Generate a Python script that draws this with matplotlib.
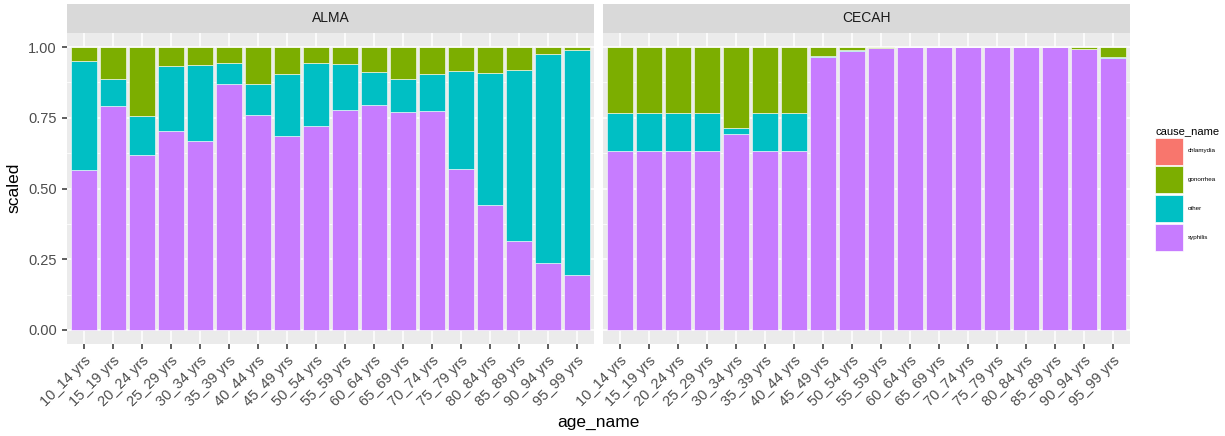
import numpy as np
import matplotlib
matplotlib.use("Agg")
import matplotlib.pyplot as plt
from matplotlib.patches import Patch

plt.rcParams["font.family"] = ["Liberation Sans", "DejaVu Sans"]

ages = ["10_14 yrs", "15_19 yrs", "20_24 yrs", "25_29 yrs", "30_34 yrs", "35_39 yrs",
        "40_44 yrs", "45_49 yrs", "50_54 yrs", "55_59 yrs", "60_64 yrs", "65_69 yrs",
        "70_74 yrs", "75_79 yrs", "80_84 yrs", "85_89 yrs", "90_94 yrs", "95_99 yrs"]
causes = ["chlamydia", "gonorrhea", "other", "syphilis"]
colors = {"chlamydia": "#F8766D", "gonorrhea": "#7CAE00", "other": "#00BFC4", "syphilis": "#C77CFF"}

# shares per age group (stacked to 1)
alma_syphilis = [0.567, 0.793, 0.617, 0.704, 0.669, 0.871, 0.761, 0.687, 0.722,
                 0.779, 0.796, 0.771, 0.774, 0.570, 0.440, 0.314, 0.237, 0.193]
alma_other = [0.384, 0.096, 0.140, 0.228, 0.267, 0.074, 0.110, 0.217, 0.223,
              0.162, 0.116, 0.118, 0.130, 0.347, 0.470, 0.605, 0.737, 0.796]
alma_gonorrhea = [0.049, 0.111, 0.243, 0.068, 0.064, 0.055, 0.129, 0.096, 0.055,
                  0.059, 0.088, 0.111, 0.096, 0.083, 0.090, 0.081, 0.026, 0.011]
alma_chlamydia = [0.0] * 18

cecah_syphilis = [0.634, 0.634, 0.634, 0.634, 0.694, 0.634, 0.634, 0.964, 0.987,
                  0.997, 0.999, 0.999, 0.999, 0.999, 0.999, 0.999, 0.993, 0.960]
cecah_other = [0.133, 0.133, 0.133, 0.133, 0.019, 0.133, 0.133, 0.004, 0.002,
               0.001, 0.0, 0.0, 0.0, 0.0, 0.0, 0.0, 0.002, 0.005]
cecah_gonorrhea = [0.233, 0.233, 0.233, 0.233, 0.287, 0.233, 0.233, 0.032, 0.011,
                   0.002, 0.001, 0.001, 0.001, 0.001, 0.001, 0.001, 0.005, 0.035]
cecah_chlamydia = [0.0] * 18

panels = [
    ("ALMA", {"syphilis": alma_syphilis, "other": alma_other,
              "gonorrhea": alma_gonorrhea, "chlamydia": alma_chlamydia}),
    ("CECAH", {"syphilis": cecah_syphilis, "other": cecah_other,
               "gonorrhea": cecah_gonorrhea, "chlamydia": cecah_chlamydia}),
]

W, H = 1225, 436
fig = plt.figure(figsize=(W / 100, H / 100), dpi=100)


def px(x0, y0, x1, y1):
    return [x0 / W, 1 - y1 / H, (x1 - x0) / W, (y1 - y0) / H]


panel_x = [(66.7, 594.3), (602.7, 1130.3)]
x = np.arange(len(ages))

for i, (name, data) in enumerate(panels):
    x0, x1 = panel_x[i]
    ax = fig.add_axes(px(x0, 33, x1, 344))
    ax.set_facecolor("#EBEBEB")
    bottom = np.zeros(len(ages))
    total = np.sum([data[c] for c in causes], axis=0)
    for cause in ["syphilis", "other", "gonorrhea", "chlamydia"]:
        vals = np.array(data[cause]) / total
        ax.bar(x, vals, bottom=bottom, width=0.92, color=colors[cause],
               edgecolor="white", linewidth=0.4, zorder=3)
        bottom += vals
    ax.set_xlim(-0.6, len(ages) - 0.4)
    ax.set_ylim(-0.05, 1.05)
    ax.set_yticks([0, 0.25, 0.5, 0.75, 1.0])
    ax.set_yticks([0.125, 0.375, 0.625, 0.875], minor=True)
    ax.set_xticks(x)
    ax.grid(True, which="major", color="white", linewidth=1.1, zorder=0)
    ax.grid(True, which="minor", axis="y", color="white", linewidth=0.55, zorder=0)
    ax.set_axisbelow(True)
    for s in ax.spines.values():
        s.set_visible(False)
    ax.tick_params(axis="both", which="major", length=3.5, width=1.1, color="#333333",
                   labelcolor="#4D4D4D", labelsize=10.5)
    ax.tick_params(axis="both", which="minor", length=0)
    ax.set_xticklabels(ages, rotation=45, ha="right", va="top", rotation_mode="anchor")
    if i == 0:
        ax.set_yticklabels(["0.00", "0.25", "0.50", "0.75", "1.00"])
    else:
        ax.tick_params(axis="y", which="major", length=0, labelleft=False)

    sax = fig.add_axes(px(x0, 4, x1, 33))
    sax.set_facecolor("#D9D9D9")
    sax.set_xticks([])
    sax.set_yticks([])
    for s in sax.spines.values():
        s.set_visible(False)
    sax.text(0.5, 0.5, name, ha="center", va="center", fontsize=10, color="#1A1A1A",
             transform=sax.transAxes)

fig.text(598.5 / W, 1 - 422 / H, "age_name", ha="center", va="center", fontsize=12.5, color="black")
fig.text(14 / W, 1 - 188 / H, "scaled", ha="center", va="center", rotation=90, fontsize=12.5, color="black")

handles = [Patch(facecolor=colors[c], edgecolor="white", linewidth=0.5) for c in causes]
leg = fig.legend(handles, causes, loc="upper left", bbox_to_anchor=(1150 / W, 1 - 121 / H),
                 frameon=False, fontsize=4.5, title="cause_name", title_fontsize=8,
                 handlelength=4.4, handleheight=6.3, labelspacing=0.25, handletextpad=0.8,
                 borderpad=0.3, alignment="left")

fig.savefig("out.png", dpi=100)
